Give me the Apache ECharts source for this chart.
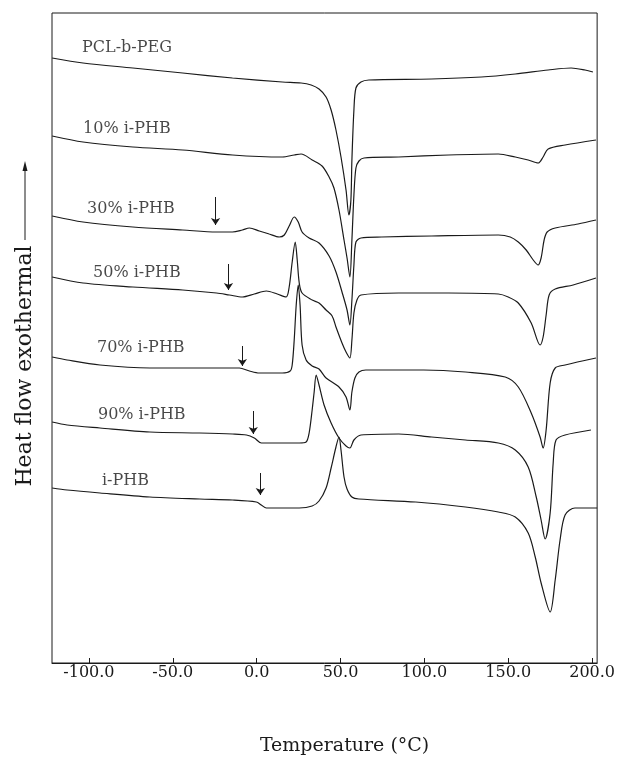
<!DOCTYPE html>
<html><head><meta charset="utf-8">
<script src="https://cdn.jsdelivr.net/npm/echarts@6/dist/echarts.min.js"></script>
<style>html,body{margin:0;padding:0;background:#fff}#c{width:618px;height:765px}</style>
</head><body><div id="c"></div>
<script>
const seriesNames = ['PCL-b-PEG', '10% i-PHB', '30% i-PHB', '50% i-PHB', '70% i-PHB', '90% i-PHB', 'i-PHB'];
const xTicks = [-100, -50, 0, 50, 100, 150, 200];

// Temperature (°C), heat flow (arbitrary units, curves offset)
const pclPeg = [[-121.9,605],[-103.5,600],[-73.8,595],[-44.1,590],[-14.4,585],[15.3,581],[26.5,580],[32.5,578],[37.2,574],[41.4,566],[44.4,553],[47.3,533],[50.3,506],[53.3,473],[55.0,448],[56.2,463],[56.8,503],[58.0,553],[59.2,575],[62.2,581],[66.9,583],[104.3,584],[134.0,586],[154.2,589],[173.8,593],[187.5,595],[195.8,593],[200.5,591]];
const phb10 = [[-121.9,527],[-103.5,521],[-73.8,516],[-44.1,513],[-14.4,508],[15.3,506],[22.4,508],[26.5,509],[33.1,503],[39.0,497],[43.2,486],[46.1,475],[49.1,453],[52.1,423],[53.9,405],[55.6,386],[56.8,423],[58.0,468],[59.2,495],[61.0,502],[64.0,505],[84.7,506],[114.4,508],[144.1,509],[154.2,506],[161.9,503],[167.8,500],[170.8,506],[173.8,514],[183.9,518],[202.3,523]];
const phb30 = [[-121.9,447],[-103.5,441],[-73.8,436],[-44.1,433],[-23.9,431],[-14.4,431],[-8.5,433],[-4.3,435],[1.6,432],[7.5,429],[13.5,426],[16.5,428],[19.4,437],[22.4,446],[24.8,441],[27.1,431],[31.3,425],[37.2,420],[43.2,407],[47.3,391],[50.9,371],[53.9,353],[55.6,338],[56.8,363],[58.0,398],[59.2,421],[62.2,425],[74.6,426],[104.3,427],[144.1,428],[151.2,426],[156.0,421],[160.7,413],[164.9,403],[167.8,398],[169.6,405],[171.4,423],[173.2,431],[178.0,435],[191.6,439],[202.3,443]];
const phb50 = [[-121.9,386],[-103.5,380],[-73.8,376],[-44.1,373],[-23.9,370],[-16.2,368],[-8.5,366],[-1.4,369],[5.8,372],[12.3,369],[17.6,366],[19.4,376],[21.2,401],[23.0,421],[24.2,403],[25.4,380],[27.1,370],[33.1,363],[37.2,360],[41.4,353],[45.0,347],[47.3,336],[50.9,320],[53.3,311],[55.6,305],[56.8,323],[58.0,350],[59.8,363],[62.2,368],[84.7,370],[114.4,370],[144.1,369],[150.0,366],[156.0,360],[163.7,340],[169.0,318],[170.8,326],[172.6,348],[174.4,368],[178.0,374],[188.7,378],[202.3,385]];
const phb70 = [[-121.9,306],[-113.0,303],[-93.4,298],[-63.7,295],[-34.0,295],[-10.3,295],[-4.3,292],[1.6,290],[15.3,290],[20.0,292],[21.2,298],[22.4,323],[23.6,358],[24.8,378],[25.9,358],[27.1,318],[29.5,303],[33.1,297],[37.2,294],[41.4,285],[49.1,276],[53.3,266],[55.6,253],[56.8,271],[58.6,285],[61.0,291],[65.1,293],[99.6,293],[124.5,291],[148.2,286],[156.0,276],[163.7,250],[169.0,226],[170.8,215],[172.6,233],[175.0,280],[178.0,295],[183.9,298],[202.3,305]];
const phb90 = [[-121.9,241],[-113.0,238],[-93.4,235],[-63.7,231],[-34.0,230],[-14.4,229],[-6.1,228],[-1.4,225],[2.8,220],[5.8,220],[25.4,220],[29.5,221],[31.3,230],[33.1,253],[34.3,271],[35.5,288],[37.2,278],[40.2,258],[44.4,240],[49.1,225],[53.3,217],[55.6,215],[58.0,223],[62.2,228],[84.7,229],[104.3,226],[124.5,223],[144.1,220],[154.2,213],[161.9,196],[166.7,166],[169.6,143],[172.0,124],[175.0,150],[176.8,200],[178.5,223],[183.9,228],[199.3,233]];
const phb100 = [[-121.9,175],[-113.0,173],[-93.4,170],[-63.7,166],[-34.0,164],[-14.4,163],[-0.2,161],[2.8,158],[5.8,155],[25.4,155],[33.1,157],[37.2,162],[41.4,175],[44.4,195],[47.3,216],[49.1,226],[50.3,213],[52.1,186],[53.9,174],[56.8,166],[61.0,164],[94.8,161],[124.5,156],[144.1,151],[154.2,146],[161.9,130],[166.1,106],[169.6,80],[175.0,51],[178.0,83],[180.9,123],[183.9,148],[189.8,155],[203.0,155]];

const curves = [pclPeg, phb10, phb30, phb50, phb70, phb90, phb100];
// label anchor per curve [T, heat flow]
const labelAnchors = [[-104.1,615],[-103.5,534],[-101.1,454],[-97.5,390],[-95.2,315],[-94.6,248],[-92.2,182]];
// Tg arrows [T, top, bottom]
const tgArrows = [[-24.5,466,438],[-16.8,399,373],[-8.5,317,297],[-2.0,252,229],[2.2,190,168]];

const FONT = 'DejaVu Serif';
const INK = '#1a1a1a';

const series = curves.map((d, i) => ({
  name: seriesNames[i], type: 'line', data: d, showSymbol: false, smooth: 0.3,
  lineStyle: { color: INK, width: 1.2 }, silent: true, animation: false, z: 2
}));
series.push({
  type: 'scatter', symbolSize: 0, silent: true, animation: false,
  data: labelAnchors.map((p, i) => ({ value: p, name: seriesNames[i] })),
  label: { show: true, position: 'right', distance: 0, formatter: '{b}', color: INK, fontFamily: FONT, fontSize: 16 },
  markLine: {
    silent: true, animation: false, symbol: ['none', 'arrow'], symbolSize: 7,
    label: { show: false }, lineStyle: { color: INK, width: 1, type: 'solid' },
    data: tgArrows.map(a => [{ coord: [a[0], a[1]] }, { coord: [a[0], a[2]] }])
  }
});

const chart = echarts.init(document.getElementById('c'), null, { renderer: 'canvas' });
chart.setOption({
  animation: false,
  backgroundColor: '#fff',
  grid: { left: 52, top: 13, width: 547.3, height: 650, show: true, borderColor: INK, borderWidth: 1, containLabel: false },
  xAxis: {
    type: 'value', min: -122, max: 203,
    name: 'Temperature (°C)', nameLocation: 'middle', nameGap: 74,
    nameTextStyle: { fontFamily: FONT, fontSize: 19, color: INK, padding: [0, 0, 0, 40] },
    axisLine: { show: true, onZero: false, lineStyle: { color: INK, width: 1 } },
    axisTick: { show: true, inside: true, length: 5, customValues: xTicks, lineStyle: { color: INK } },
    axisLabel: { customValues: xTicks, formatter: v => v.toFixed(1), fontFamily: FONT, fontSize: 16, color: INK, margin: 2 },
    splitLine: { show: false }
  },
  yAxis: {
    type: 'value', min: 0, max: 650,
    axisLine: { show: false, onZero: false },
    axisTick: { show: false }, axisLabel: { show: false }, splitLine: { show: false }
  },
  graphic: [
    { type: 'text', x: 25, y: 366, rotation: Math.PI / 2,
      style: { text: 'Heat flow exothermal', fontFamily: FONT, fontSize: 22, fill: INK, align: 'center', verticalAlign: 'middle' } },
    { type: 'line', shape: { x1: 25, y1: 240, x2: 25, y2: 166 }, style: { stroke: INK, lineWidth: 1 } },
    { type: 'polygon', shape: { points: [[25, 161], [22.5, 171], [27.5, 171]] }, style: { fill: INK } }
  ],
  series: series
});
</script></body></html>
